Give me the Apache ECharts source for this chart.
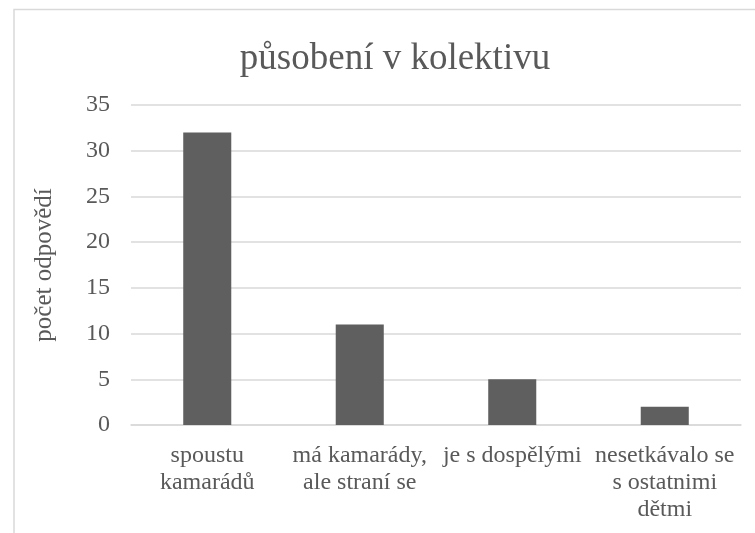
<!DOCTYPE html>
<html>
<head>
<meta charset="utf-8">
<script src="https://cdn.jsdelivr.net/npm/echarts@6/dist/echarts.min.js"></script>
<style>
  html, body { margin: 0; padding: 0; background: #ffffff; }
  #chart { width: 755px; height: 533px; }
</style>
</head>
<body>
<div id="chart"></div>
<script>
// data
var categories = ['spoustu\nkamarádů', 'má kamarády,\nale straní se', 'je s dospělými', 'nesetkávalo se\ns ostatnimi\ndětmi'];
var answers = [32, 11, 5, 2];
var yTicks = { min: 0, max: 35, interval: 5 };

var serif = 'Liberation Serif';
var textColor = '#595959';
var lineColor = '#d9d9d9';

var chart = echarts.init(document.getElementById('chart'));
chart.setOption({
  animation: false,
  backgroundColor: '#ffffff',
  textStyle: { fontFamily: serif },
  graphic: [{
    type: 'rect',
    shape: { x: 14, y: 9.5, width: 800, height: 600 },
    style: { fill: 'none', stroke: lineColor, lineWidth: 1.5 },
    silent: true
  }],
  title: {
    text: 'působení v kolektivu',
    left: 390,
    textAlign: 'center',
    top: 36,
    textStyle: { fontFamily: serif, fontSize: 37, fontWeight: 'normal', color: textColor }
  },
  grid: { left: 131, right: 14, top: 105, bottom: 108 },
  xAxis: {
    type: 'category',
    data: categories,
    axisLine: { lineStyle: { color: lineColor, width: 1.5 } },
    axisTick: { show: false },
    axisLabel: {
      interval: 0,
      margin: 17,
      fontFamily: serif,
      fontSize: 24,
      lineHeight: 27,
      color: textColor
    }
  },
  yAxis: {
    type: 'value',
    min: yTicks.min,
    max: yTicks.max,
    interval: yTicks.interval,
    name: 'počet odpovědí',
    nameLocation: 'middle',
    nameRotate: 90,
    nameGap: 74,
    nameTextStyle: { fontFamily: serif, fontSize: 25, color: textColor },
    axisLine: { show: false },
    axisTick: { show: false },
    axisLabel: { margin: 21, fontFamily: serif, fontSize: 24, color: textColor },
    splitLine: { lineStyle: { color: lineColor, width: 1.5 } }
  },
  series: [{
    type: 'bar',
    data: answers,
    barWidth: '31.5%',
    itemStyle: { color: '#5f5f5f' }
  }]
});
</script>
</body>
</html>
